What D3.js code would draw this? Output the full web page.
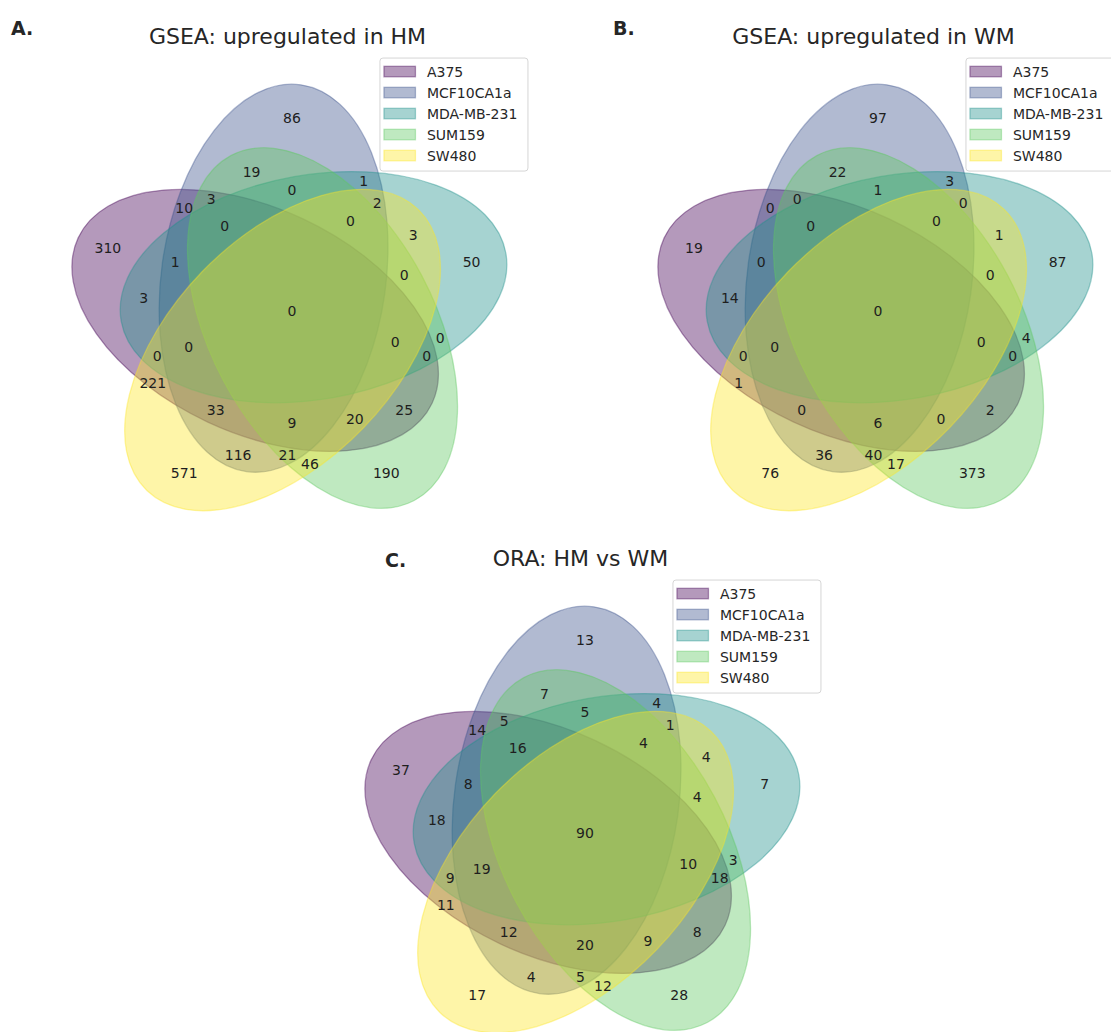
<!DOCTYPE html>
<html>
<head>
<meta charset="utf-8">
<script src="https://cdn.jsdelivr.net/npm/d3@7"></script>
<style>
  html, body { margin: 0; padding: 0; background: #ffffff; }
  svg { display: block; }
  text { font-family: "DejaVu Sans", "Noto Sans", sans-serif; }
</style>
</head>
<body>
<svg id="chart" width="1111" height="1032"></svg>
<script>
// ---- data -------------------------------------------------------------
const setNames = ["A375", "MCF10CA1a", "MDA-MB-231", "SUM159", "SW480"];

// region keys: one bit per set (A375 first), in binary order 00001 .. 11111
const regionKeys = [
  "00001", "00010", "00011", "00100", "00101", "00110", "00111",
  "01000", "01001", "01010", "01011", "01100", "01101", "01110", "01111",
  "10000", "10001", "10010", "10011", "10100", "10101", "10110", "10111",
  "11000", "11001", "11010", "11011", "11100", "11101", "11110", "11111"
];

const hmCounts = [
  571, 190, 46, 50, 3, 0, 0,
  86, 116, 19, 21, 1, 2, 0, 0,
  310, 221, 25, 20, 3, 0, 0, 0,
  10, 33, 3, 9, 1, 0, 0, 0
];

const wmCounts = [
  76, 373, 17, 87, 1, 4, 0,
  97, 36, 22, 40, 3, 0, 1, 0,
  19, 1, 2, 0, 14, 0, 0, 0,
  0, 0, 0, 6, 0, 0, 0, 0
];

const oraCounts = [
  17, 28, 12, 7, 4, 3, 4,
  13, 4, 7, 5, 4, 1, 5, 4,
  37, 11, 8, 9, 18, 9, 18, 10,
  14, 12, 5, 20, 8, 19, 16, 90
];

const panelLetters = ["A.", "B.", "C."];
const panelTitles = ["GSEA: upregulated in HM", "GSEA: upregulated in WM", "ORA: HM vs WM"];
const panelCounts = [hmCounts, wmCounts, oraCounts];

// ---- five-set venn geometry (unit square) ----------------------------
const ellipseCenters = [[0.428, 0.449], [0.469, 0.543], [0.558, 0.523], [0.578, 0.432], [0.489, 0.383]];
const ellipseSize = [0.87, 0.50];
const ellipseAngles = [155, 82, 10, 118, 46];

const labelAnchors = {
  "00001": [0.27, 0.11], "00010": [0.72, 0.11], "00011": [0.55, 0.13],
  "00100": [0.91, 0.58], "00101": [0.78, 0.64], "00110": [0.84, 0.41],
  "00111": [0.76, 0.55], "01000": [0.51, 0.90], "01001": [0.39, 0.15],
  "01010": [0.42, 0.78], "01011": [0.50, 0.15], "01100": [0.67, 0.76],
  "01101": [0.70, 0.71], "01110": [0.51, 0.74], "01111": [0.64, 0.67],
  "10000": [0.10, 0.61], "10001": [0.20, 0.31], "10010": [0.76, 0.25],
  "10011": [0.65, 0.23], "10100": [0.18, 0.50], "10101": [0.21, 0.37],
  "10110": [0.81, 0.37], "10111": [0.74, 0.40], "11000": [0.27, 0.70],
  "11001": [0.34, 0.25], "11010": [0.33, 0.72], "11011": [0.51, 0.22],
  "11100": [0.25, 0.58], "11101": [0.28, 0.39], "11110": [0.36, 0.66],
  "11111": [0.51, 0.47]
};

// ---- page layout ---------------------------------------------------------
const unit = 449;                          // pixels per venn unit
const panels = [
  { ox: 63,  oy: 522,  letterX: 11,  letterY: 35 },
  { ox: 649, oy: 522,  letterX: 613, letterY: 35 },
  { ox: 356, oy: 1044, letterX: 385, letterY: 566.5 }
];

const colors = setNames.map((_, i) => d3.interpolateViridis(i / (setNames.length - 1)));
const alpha = 0.4;

const svg = d3.select("#chart");

panels.forEach((p, pi) => {
  const x = d3.scaleLinear().domain([0, 1]).range([p.ox, p.ox + unit]);
  const y = d3.scaleLinear().domain([0, 1]).range([p.oy, p.oy - unit]);
  const g = svg.append("g").attr("class", "panel");

  const axLeft = x(-0.05), axRight = x(1.05), axTop = y(1.05);

  // set ellipses
  g.selectAll("ellipse")
    .data(ellipseCenters.map((c, i) => ({ c, a: ellipseAngles[i], color: colors[i] })))
    .join("ellipse")
      .attr("cx", d => x(d.c[0]))
      .attr("cy", d => y(d.c[1]))
      .attr("rx", x(ellipseSize[0] / 2) - x(0))
      .attr("ry", y(0) - y(ellipseSize[1] / 2))
      .attr("transform", d => `rotate(${-d.a},${x(d.c[0])},${y(d.c[1])})`)
      .attr("fill", d => d.color)
      .attr("fill-opacity", alpha)
      .attr("stroke", d => d.color)
      .attr("stroke-opacity", alpha)
      .attr("stroke-width", 1.3);

  // region counts
  const counts = panelCounts[pi];
  g.selectAll("text.count")
    .data(regionKeys.map((k, i) => ({ k, v: counts[i] })))
    .join("text")
      .attr("class", "count")
      .attr("x", d => x(labelAnchors[d.k][0]))
      .attr("y", d => y(labelAnchors[d.k][1]))
      .attr("dy", "0.36em")
      .attr("text-anchor", "middle")
      .attr("font-size", 14)
      .attr("fill", "#1e1e1e")
      .text(d => d.v);

  // title
  g.append("text")
    .attr("x", (axLeft + axRight) / 2)
    .attr("y", axTop - 7)
    .attr("text-anchor", "middle")
    .attr("font-size", 22)
    .attr("fill", "#262626")
    .text(panelTitles[pi]);

  // panel letter
  g.append("text")
    .attr("x", p.letterX)
    .attr("y", p.letterY)
    .attr("font-family", "'Liberation Sans', Arial, sans-serif")
    .attr("font-weight", "bold")
    .attr("font-size", 19)
    .attr("fill", "#262626")
    .text(panelLetters[pi]);

  // legend, upper right of the axes
  const lw = 148, lh = 113;
  const lx = axRight - 6.5 - lw, ly = axTop + 7.5;
  const leg = g.append("g").attr("transform", `translate(${lx},${ly})`);
  leg.append("rect")
    .attr("width", lw).attr("height", lh).attr("rx", 3)
    .attr("fill", "#ffffff").attr("fill-opacity", 0.8)
    .attr("stroke", "#cccccc").attr("stroke-opacity", 0.8).attr("stroke-width", 1);
  const rows = leg.selectAll("g.row")
    .data(setNames.map((n, i) => ({ n, color: colors[i] })))
    .join("g")
      .attr("class", "row")
      .attr("transform", (d, i) => `translate(0,${13.5 + 21 * i})`);
  rows.append("rect")
    .attr("x", 4).attr("y", -5.25).attr("width", 31.5).attr("height", 10.5)
    .attr("fill", d => d.color).attr("fill-opacity", alpha)
    .attr("stroke", d => d.color).attr("stroke-opacity", alpha).attr("stroke-width", 1.3);
  rows.append("text")
    .attr("x", 47).attr("dy", "0.36em")
    .attr("font-size", 14)
    .attr("fill", "#262626")
    .text(d => d.n);
});
</script>
</body>
</html>
